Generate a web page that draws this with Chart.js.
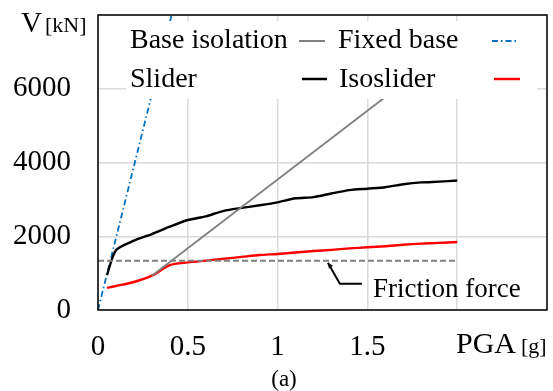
<!DOCTYPE html>
<html>
<head>
<meta charset="utf-8">
<script src="https://cdn.jsdelivr.net/npm/chart.js@4.4.1/dist/chart.umd.min.js"></script>
<style>
  html, body { margin: 0; padding: 0; background: #fff; }
  #wrap { width: 553px; height: 391px; position: relative; }
</style>
</head>
<body>
<div id="wrap"><canvas id="PgaChart"></canvas></div>
<script>
// values
var pgaValues = [0.05, 0.1, 0.2, 0.3, 0.4, 0.5, 0.6, 0.7, 0.8, 0.9, 1.0,
                 1.1, 1.2, 1.3, 1.4, 1.5, 1.6, 1.7, 1.8, 1.9, 2.0];
var sliderValues = [950, 1620, 1880, 2060, 2260, 2440, 2540, 2690, 2770, 2840, 2920,
                    3030, 3060, 3160, 3250, 3290, 3330, 3410, 3460, 3480, 3510];
var isosliderValues = [600, 650, 760, 930, 1220, 1290, 1340, 1390, 1440, 1490, 1520,
                       1560, 1600, 1630, 1670, 1700, 1730, 1770, 1800, 1820, 1845];
var fixedBasePga = [0, 0.41];
var fixedBaseValues = [0, 8000];
var baseIsoPga = [0.3, 2.0];
var baseIsoValues = [930, 7270];
var frictionPga = [0, 2.0];
var frictionForce = 1335;

var xTicks = [0, 0.5, 1, 1.5];
var yTicks = [0, 2000, 4000, 6000];

var serif = "'Liberation Serif', 'Times New Roman', serif";

function pts(xs, ys) {
    var out = [];
    for (var i = 0; i < xs.length; i++) out.push({ x: xs[i], y: ys[i] });
    return out;
}

function noPad(s) {
    s.paddingTop = 0; s.paddingBottom = 0; s.paddingLeft = 0; s.paddingRight = 0;
}

var extras = {
    id: 'extras',
    afterDatasetsDraw: function(chart) {
        var ctx = chart.ctx;
        var a = chart.chartArea;
        var xs = chart.scales.x, ys = chart.scales.y;
        ctx.save();

        // legend box covers the lines
        ctx.fillStyle = '#fff';
        ctx.fillRect(126, 21, 411, 78);
        ctx.fillStyle = '#000';
        ctx.textBaseline = 'alphabetic';
        ctx.textAlign = 'left';
        ctx.font = '28px ' + serif;
        ctx.fillText('Base isolation', 130, 48);
        ctx.fillText('Fixed base', 338, 48);
        ctx.fillText('Slider', 130, 87);
        ctx.fillText('Isoslider', 339, 87);

        ctx.lineWidth = 2;
        ctx.strokeStyle = '#808080';
        ctx.beginPath(); ctx.moveTo(299, 41); ctx.lineTo(325, 41); ctx.stroke();
        ctx.strokeStyle = '#0070C0';
        ctx.setLineDash([6, 3, 1.5, 3]);
        ctx.beginPath(); ctx.moveTo(492, 41); ctx.lineTo(518, 41); ctx.stroke();
        ctx.setLineDash([]);
        ctx.lineWidth = 2.5;
        ctx.strokeStyle = '#000';
        ctx.beginPath(); ctx.moveTo(302, 79); ctx.lineTo(327, 79); ctx.stroke();
        ctx.strokeStyle = '#ff0000';
        ctx.beginPath(); ctx.moveTo(494, 79); ctx.lineTo(520, 79); ctx.stroke();

        // friction force callout
        var tipX = xs.getPixelForValue(1.28);
        var tipY = ys.getPixelForValue(frictionForce) + 2;
        ctx.strokeStyle = '#000';
        ctx.lineWidth = 2;
        ctx.beginPath();
        ctx.moveTo(tipX, tipY);
        ctx.lineTo(tipX + 12, tipY + 21);
        ctx.lineTo(tipX + 34, tipY + 21);
        ctx.stroke();
        ctx.beginPath();
        ctx.moveTo(tipX, tipY);
        ctx.lineTo(tipX + 1, tipY + 6);
        ctx.lineTo(tipX + 5, tipY + 3);
        ctx.closePath();
        ctx.fillStyle = '#000';
        ctx.fill();
        ctx.font = '27px ' + serif;
        ctx.fillText('Friction force', 373, 297);

        // plot frame
        ctx.lineWidth = 1.5;
        ctx.strokeRect(a.left, a.top, a.right - a.left, a.bottom - a.top);

        // axis titles and caption
        ctx.font = '29px ' + serif;
        ctx.fillText('V', 21, 32);
        ctx.font = '22px ' + serif;
        ctx.fillText('[kN]', 45, 32);
        ctx.font = '30px ' + serif;
        ctx.fillText('PGA', 456, 353);
        ctx.font = '22px ' + serif;
        ctx.fillText('[g]', 521, 353);
        ctx.font = '23px ' + serif;
        ctx.textAlign = 'center';
        ctx.fillText('(a)', 284, 386);
        ctx.restore();
    }
};

var chart = new Chart(document.getElementById('PgaChart'), {
    type: 'line',
    data: {
        datasets: [
            {
                label: 'Base isolation',
                data: pts(baseIsoPga, baseIsoValues),
                borderColor: '#808080',
                borderWidth: 1.8,
                pointRadius: 0
            },
            {
                label: 'Friction',
                data: pts(frictionPga, [frictionForce, frictionForce]),
                borderColor: '#808080',
                borderWidth: 2,
                borderDash: [6, 3],
                pointRadius: 0
            },
            {
                label: 'Slider',
                data: pts(pgaValues, sliderValues),
                borderColor: '#000',
                borderWidth: 2.4,
                tension: 0.25,
                pointRadius: 0
            },
            {
                label: 'Isoslider',
                data: pts(pgaValues, isosliderValues),
                borderColor: '#ff0000',
                borderWidth: 2.4,
                tension: 0.25,
                pointRadius: 0
            },
            {
                label: 'Fixed base',
                data: pts(fixedBasePga, fixedBaseValues),
                borderColor: '#0070C0',
                borderWidth: 1.8,
                borderDash: [6, 3, 1.5, 3],
                pointRadius: 0
            }
        ]
    },
    options: {
        responsive: true,
        maintainAspectRatio: false,
        animation: false,
        layout: { padding: { top: 15, right: 6, left: 0, bottom: 0 } },
        plugins: { legend: { display: false }, tooltip: { enabled: false } },
        scales: {
            x: {
                type: 'linear',
                min: 0, max: 2.5,
                afterFit: function(s) { s.height = 81; noPad(s); },
                border: { display: false },
                grid: { color: '#dadada', lineWidth: 1.5, drawTicks: false },
                ticks: {
                    stepSize: 0.5,
                    padding: 20,
                    color: '#000',
                    font: { family: serif, size: 29 },
                    callback: function(v) { return xTicks.indexOf(v) >= 0 ? String(v) : ''; }
                }
            },
            y: {
                min: 0, max: 8000,
                afterFit: function(s) { s.width = 98; noPad(s); },
                border: { display: false },
                grid: { color: '#dadada', lineWidth: 1.5, drawTicks: false },
                ticks: {
                    stepSize: 2000,
                    padding: 27,
                    color: '#000',
                    font: { family: serif, size: 29 },
                    callback: function(v) { return yTicks.indexOf(v) >= 0 ? String(v) : ''; }
                }
            }
        }
    },
    plugins: [extras]
});
</script>
</body>
</html>
